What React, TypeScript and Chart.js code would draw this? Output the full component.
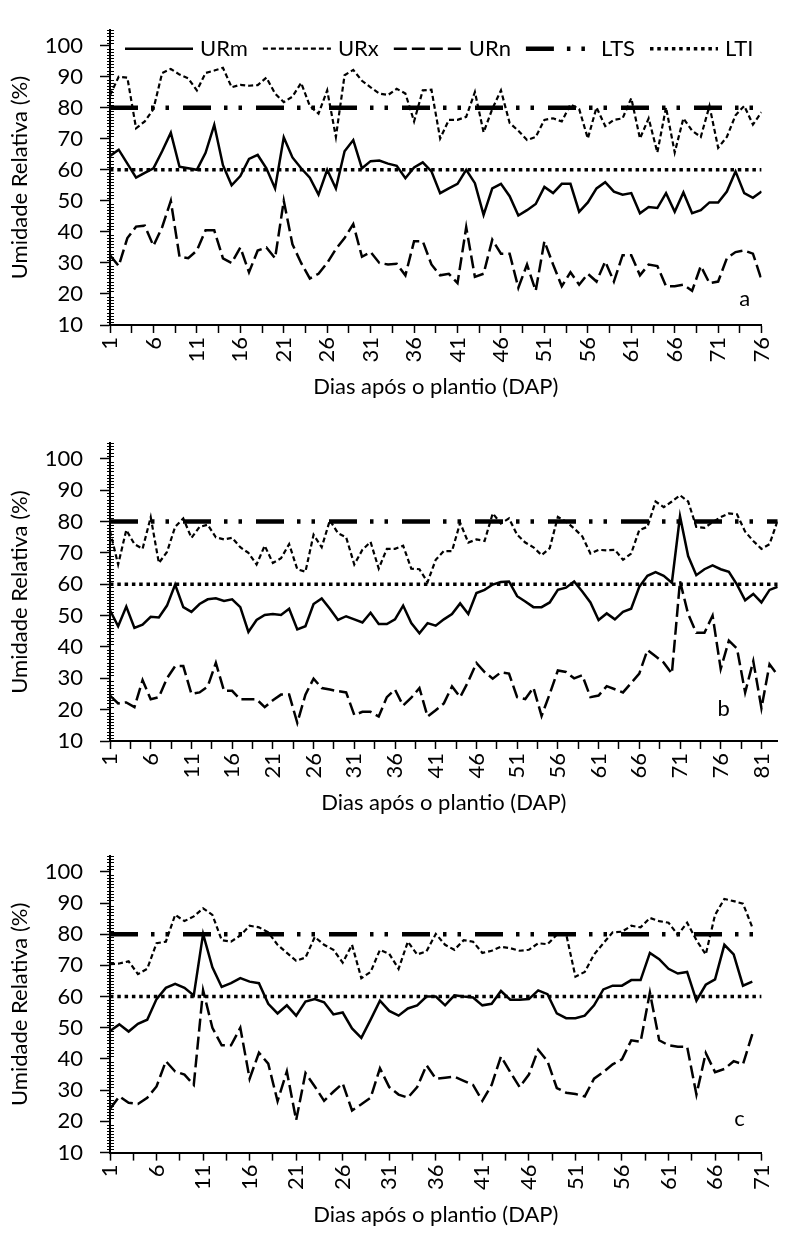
import React, { useEffect, useRef } from "react";
import { Chart, registerables } from "chart.js";

Chart.register(...registerables);

const FONT_FAMILY = "Lato, 'Open Sans', sans-serif";
const FONT_SIZE = 22;

const LTS_VALUE = 80;
const LTI_VALUE = 60;
const Y_TICKS = [10, 20, 30, 40, 50, 60, 70, 80, 90, 100];
const SERIES_LABELS = ["URm", "URx", "URn", "LTS", "LTI"];
const X_TITLE = "Dias após o plantio (DAP)";
const Y_TITLE = "Umidade Relativa (%)";

// Panel a
const A_LAST_DAY = 76;
const A_URM = [
  64.5, 66.5, 62, 57.5, 59, 60.5, 66, 72, 61, 60.5,
  60, 65.5, 74.5, 61.5, 55, 58, 63.5, 64.8, 60.5, 54,
  70.5, 64, 60.5, 57.5, 52, 60, 54, 66, 69.6, 60.5,
  62.8, 63, 62, 61.3, 57.3, 60.8, 62.4, 59.5, 52.5, 54,
  55.5, 60, 55.7, 45.5, 54, 55.5, 51.5, 45.3, 47, 49,
  54.5, 52.5, 55.5, 55.5, 46.5, 49.5, 54, 56, 53, 52,
  52.5, 46, 48, 47.7, 52.5, 46.5, 52.7, 46, 47, 49.5,
  49.5, 53, 59.5, 52.5, 51, 53,
];
const A_URX = [
  84, 90, 89.7, 73.4, 75.6, 79.6, 91.2, 92.5, 90.7, 89.5,
  85.6, 91.2, 92, 92.9, 86.6, 87.4, 87.1, 87.3, 89.7, 84.6,
  81.8, 83.6, 88, 80.6, 78.1, 85.6, 70.6, 90.5, 92.2, 88.7,
  86.6, 84.6, 84.1, 86.1, 84.6, 75.6, 85.6, 85.8, 70.1, 76.1,
  76.1, 77.1, 85.1, 72.1, 79.6, 85.6, 75.1, 72.6, 69.6, 70.6,
  76.1, 76.6, 75.6, 81.1, 79.6, 70.1, 80.1, 74.1, 76.1, 76.6,
  83.1, 70.1, 76.6, 65.6, 80.1, 65.6, 76.6, 72.6, 70.6, 80.6,
  67.1, 70.6, 77.6, 80.6, 74.6, 78.6,
];
const A_URN = [
  32.5, 29, 38, 41.7, 42, 35.5, 41.5, 50, 32, 31.5,
  34, 40.5, 40.5, 31.5, 30, 35, 27, 34, 35, 31.5,
  50, 36, 30, 25, 26.5, 30, 34.5, 38, 42.5, 32,
  33.5, 30, 29.5, 29.7, 26, 37, 37, 29.5, 26, 26.5,
  23.5, 41.5, 25.5, 26.5, 37.5, 33, 33, 22, 29.5, 21,
  37, 29.5, 22.5, 27, 23, 26.5, 24, 30.5, 24, 32.5,
  32.5, 26, 29.5, 29, 22.5, 22.5, 23, 21, 29, 23.5,
  24, 31.5, 33.5, 34, 33, 24.5,
];

// Panel b
const B_LAST_DAY = 83;
const B_URM = [
  51.7, 46.6, 52.9, 46.1, 47.1, 49.6, 49.4, 53.2, 59.9, 52.7,
  51.2, 53.7, 55.2, 55.5, 54.7, 55.2, 52.7, 44.8, 48.6, 50.2,
  50.5, 50.2, 52.2, 45.6, 46.6, 53.7, 55.5, 52.2, 48.6, 49.8,
  48.8, 47.8, 50.9, 47.3, 47.3, 48.8, 53.2, 47.6, 44.4, 47.6,
  46.8, 48.8, 50.5, 53.9, 50.5, 57.2, 58.2, 59.9, 60.7, 60.9,
  56.2, 54.5, 52.7, 52.7, 54.2, 58.2, 58.9, 60.9, 57.7, 54.2,
  48.6, 50.7, 48.8, 51.2, 52.2, 59.2, 62.7, 63.9, 62.7, 60.5,
  81.7, 69, 62.9, 64.8, 66, 64.8, 64, 59.9, 54.9, 56.9,
  54.2, 58.2, 59.2,
];
const B_URX = [
  77, 66.3, 77.3, 72.8, 71.3, 81.4, 66.8, 70.3, 78.3, 81,
  74.8, 78.3, 79, 75, 74.3, 74.8, 71.8, 70, 66.3, 72.3,
  66.8, 68.3, 72.8, 64.8, 64, 75.8, 71.8, 80.4, 76.3, 75,
  66.3, 71, 73.5, 65, 71.3, 71.3, 72.3, 65, 64.8, 60.7,
  67.8, 70.6, 70.6, 79.6, 73.3, 74.3, 73.8, 82.6, 79.4, 81,
  75.8, 73.3, 71.8, 69.3, 71.5, 81.5, 80, 77.8, 75.3, 69.8,
  71, 70.8, 71, 67.8, 69.8, 77.3, 78.3, 86.4, 84.6, 86.4,
  88.4, 86.4, 78.3, 78, 79.8, 81.4, 82.6, 82.3, 76.8, 73.8,
  71.3, 72.8, 80.4,
];
const B_URN = [
  24.5, 22, 22.3, 20.8, 29.4, 23.3, 24, 30, 33.9, 33.9,
  25, 25.5, 27.4, 34.9, 26, 26, 23.3, 23.3, 23.3, 20.8,
  23, 24.8, 24.8, 15.8, 24.8, 29.9, 26.9, 26.4, 25.9, 25.5,
  18.3, 19.3, 19.3, 17.8, 24, 26.4, 21.3, 23.8, 26.9, 17.8,
  19.8, 22, 27.4, 24, 29, 34.9, 32, 29.9, 31.9, 31.5,
  24, 23.4, 27, 18, 25, 32.5, 32, 30, 31, 24,
  24.5, 27.5, 26.5, 25.5, 28.5, 31.5, 39, 37, 35, 31.5,
  61, 50.5, 44.5, 44.5, 50, 33, 42, 39.5, 25.5, 35.5,
  20.5, 34.5, 31,
];

// Panel c
const C_LAST_DAY = 71;
const C_URM = [
  49, 51.1, 48.8, 51.3, 52.6, 59.2, 62.8, 64.1, 62.8, 60.4,
  80.1, 69.4, 63.1, 64.3, 65.9, 64.8, 64.3, 57.7, 54.6, 57.2,
  53.9, 58.4, 59.2, 58.2, 54.3, 54.9, 49.8, 46.8, 52.6, 58.7,
  55.4, 53.9, 56.2, 57.2, 60, 60, 57.2, 60.4, 60, 59.7,
  57.2, 57.7, 61.8, 59, 59, 59.2, 62, 60.8, 54.6, 53.1,
  53.1, 53.9, 57.2, 62.3, 63.5, 63.5, 65.3, 65.3, 74, 72,
  68.9, 67.4, 67.9, 58.7, 63.8, 65.5, 76.6, 73.5, 63.5, 64.8,
];
const C_URX = [
  70.4, 70.6, 71.3, 67.2, 68.9, 77.1, 77.6, 86.2, 84.2, 85.7,
  88.3, 86.2, 78.1, 77.6, 79.6, 82.7, 82.2, 80.6, 76.6, 74,
  71.5, 72.5, 79.1, 76.6, 75, 70.9, 76.6, 65.9, 67.9, 75,
  73.7, 68.9, 77.6, 73.5, 74.5, 80.1, 76.6, 75, 78.1, 77.6,
  74, 74.7, 76, 75.5, 74.7, 75, 77.1, 76.8, 79.8, 80.1,
  66.4, 67.9, 73.5, 77.1, 80.6, 80.8, 82.7, 82.2, 85.2, 84.2,
  83.7, 79.8, 83.7, 78.1, 73.5, 86.2, 91.3, 90.6, 89.8, 82.2,
];
const C_URN = [
  24, 28, 26, 25.6, 27.6, 31.2, 39.3, 36, 35, 31.7,
  62, 50, 44.4, 44.4, 50, 33.7, 42, 38.5, 26.5, 36,
  20.4, 35.5, 31.2, 26.6, 29.5, 32.2, 23.5, 25.5, 27.6, 37,
  31, 28.6, 27.6, 31, 38, 33.7, 34, 34.3, 33, 31.7,
  26.6, 31.7, 40.8, 35.8, 31, 35, 43, 39.3, 30.7, 29.2,
  28.8, 28, 33.7, 35.8, 38.3, 39.9, 46, 45.5, 61.3, 46,
  44.4, 43.9, 43.9, 28.6, 41.9, 35.8, 36.8, 39.3, 38.3, 48,
];

type PanelCfg = {
  letter: string;
  lastDay: number;
  urm: number[];
  urx: number[];
  urn: number[];
  top: number;
  height: number;
  padTop: number;
  xAxisH: number;
  right: number;
  titlePad: number;
  letterOffset: number;
  letterValue: number;
  showLegend: boolean;
};

const PANELS: PanelCfg[] = [
  { letter: "a", lastDay: A_LAST_DAY, urm: A_URM, urx: A_URX, urn: A_URN, top: 0, height: 413, padTop: 9.4, xAxisH: 88, right: 780, titlePad: 13, letterOffset: 17, letterValue: 18.5, showLegend: true },
  { letter: "b", lastDay: B_LAST_DAY, urm: B_URM, urx: B_URX, urn: B_URN, top: 413, height: 413, padTop: 13.7, xAxisH: 85, right: 785, titlePad: 10, letterOffset: 54, letterValue: 20.3, showLegend: false },
  { letter: "c", lastDay: C_LAST_DAY, urm: C_URM, urx: C_URX, urn: C_URN, top: 826, height: 412, padTop: 16, xAxisH: 85.4, right: 783, titlePad: 10, letterOffset: 22, letterValue: 20.7, showLegend: false },
];

const toPoints = (arr: number[]) => arr.map((v, i) => ({ x: i + 1, y: v }));

function Panel({ cfg }: { cfg: PanelCfg }) {
  const ref = useRef<HTMLCanvasElement | null>(null);

  useEffect(() => {
    const canvas = ref.current;
    if (!canvas) return;
    const font = { family: FONT_FAMILY, size: FONT_SIZE };

    const overlay = {
      id: "overlay" + cfg.letter,
      afterDraw(chart: any) {
        const ctx = chart.ctx;
        const ys = chart.scales.y;
        const ca = chart.chartArea;
        const x0 = ca.left;
        ctx.save();
        ctx.strokeStyle = "#000";
        ctx.lineWidth = 1.2;
        ctx.setLineDash([]);
        ctx.beginPath();
        for (let v = 10; v <= 105; v += 1) {
          if (v % 10 === 0) continue;
          const py = Math.round(ys.getPixelForValue(v)) + 0.5;
          ctx.moveTo(x0 - 3, py);
          ctx.lineTo(x0 + 4, py);
        }
        ctx.stroke();

        ctx.fillStyle = "#000";
        ctx.font = `${FONT_SIZE}px ${FONT_FAMILY}`;
        ctx.textAlign = "center";
        ctx.textBaseline = "middle";
        ctx.fillText(cfg.letter, ca.right - cfg.letterOffset, ys.getPixelForValue(cfg.letterValue));

        if (cfg.showLegend) {
          const ly = ys.getPixelForValue(100) + 3;
          let lx = ca.left + 15;
          ctx.textAlign = "left";
          chart.data.datasets.forEach((ds: any) => {
            ctx.save();
            ctx.strokeStyle = "#000";
            ctx.lineWidth = ds.borderWidth;
            ctx.lineCap = "butt";
            ctx.setLineDash(ds.borderDash || []);
            ctx.beginPath();
            ctx.moveTo(lx, ly);
            ctx.lineTo(lx + 68, ly);
            ctx.stroke();
            ctx.restore();
            lx += 68 + 7;
            ctx.fillText(ds.label, lx, ly);
            lx += ctx.measureText(ds.label).width + 15;
          });
        }
        ctx.restore();
      },
    };

    const chart = new Chart(canvas, {
      type: "line",
      data: {
        datasets: [
          { label: SERIES_LABELS[0], data: toPoints(cfg.urm), borderColor: "#000", borderWidth: 2.5, borderDash: [] },
          { label: SERIES_LABELS[1], data: toPoints(cfg.urx), borderColor: "#000", borderWidth: 2.2, borderDash: [5, 3] },
          { label: SERIES_LABELS[2], data: toPoints(cfg.urn), borderColor: "#000", borderWidth: 2.5, borderDash: [13, 5] },
          { label: SERIES_LABELS[3], data: [{ x: 1, y: LTS_VALUE }, { x: cfg.lastDay, y: LTS_VALUE }], borderColor: "#000", borderWidth: 4.5, borderDash: [28, 13, 3.5, 11, 3.5, 14] },
          { label: SERIES_LABELS[4], data: [{ x: 1, y: LTI_VALUE }, { x: cfg.lastDay, y: LTI_VALUE }], borderColor: "#000", borderWidth: 3.5, borderDash: [3.5, 3.8] },
        ] as any,
      },
      options: {
        responsive: false,
        animation: false,
        devicePixelRatio: 1,
        layout: { padding: { left: 0, right: 792 - cfg.right, top: cfg.padTop, bottom: 0 } },
        elements: { point: { radius: 0 }, line: { tension: 0, borderCapStyle: "butt" } },
        plugins: { legend: { display: false }, tooltip: { enabled: false } },
        scales: {
          x: {
            type: "linear",
            min: 1,
            max: cfg.lastDay,
            afterBuildTicks: (s: any) => {
              const t: any[] = [];
              for (let v = 1; v <= cfg.lastDay + 1e-9; v += 2.5) t.push({ value: v });
              s.ticks = t;
            },
            afterFit: (s: any) => {
              s.height = cfg.xAxisH;
            },
            ticks: {
              autoSkip: false,
              minRotation: 90,
              maxRotation: 90,
              padding: 4,
              color: "#000",
              font,
              callback: (v: any) => (Number.isInteger(v) && (v - 1) % 5 === 0 ? String(v) : ""),
            },
            grid: { drawOnChartArea: false, drawTicks: true, tickLength: 8, tickColor: "#000", tickWidth: 1.5, color: "#000" },
            border: { display: true, color: "#000", width: 2 },
            title: { display: true, text: X_TITLE, color: "#000", font, padding: { top: 0, bottom: cfg.titlePad } },
          },
          y: {
            type: "linear",
            min: 10,
            max: 105,
            afterBuildTicks: (s: any) => {
              s.ticks = Y_TICKS.map((v) => ({ value: v }));
            },
            afterFit: (s: any) => {
              s.width = 110;
            },
            ticks: { autoSkip: false, padding: 17, color: "#000", font },
            grid: { drawOnChartArea: false, drawTicks: true, tickLength: 10, tickColor: "#000", tickWidth: 1.5, color: "#000" },
            border: { display: true, color: "#000", width: 2 },
            title: { display: true, text: Y_TITLE, color: "#000", font, padding: { top: 7, bottom: 0 } },
          },
        },
      } as any,
      plugins: [overlay],
    });
    return () => chart.destroy();
  }, [cfg]);

  return (
    <canvas
      ref={ref}
      width={792}
      height={cfg.height}
      style={{ position: "absolute", left: 0, top: cfg.top, width: 792, height: cfg.height, display: "block" }}
    />
  );
}

export default function App() {
  return (
    <div style={{ position: "absolute", left: 0, top: 0, width: 792, height: 1238, background: "#fff" }}>
      {PANELS.map((p) => (
        <Panel key={p.letter} cfg={p} />
      ))}
    </div>
  );
}
